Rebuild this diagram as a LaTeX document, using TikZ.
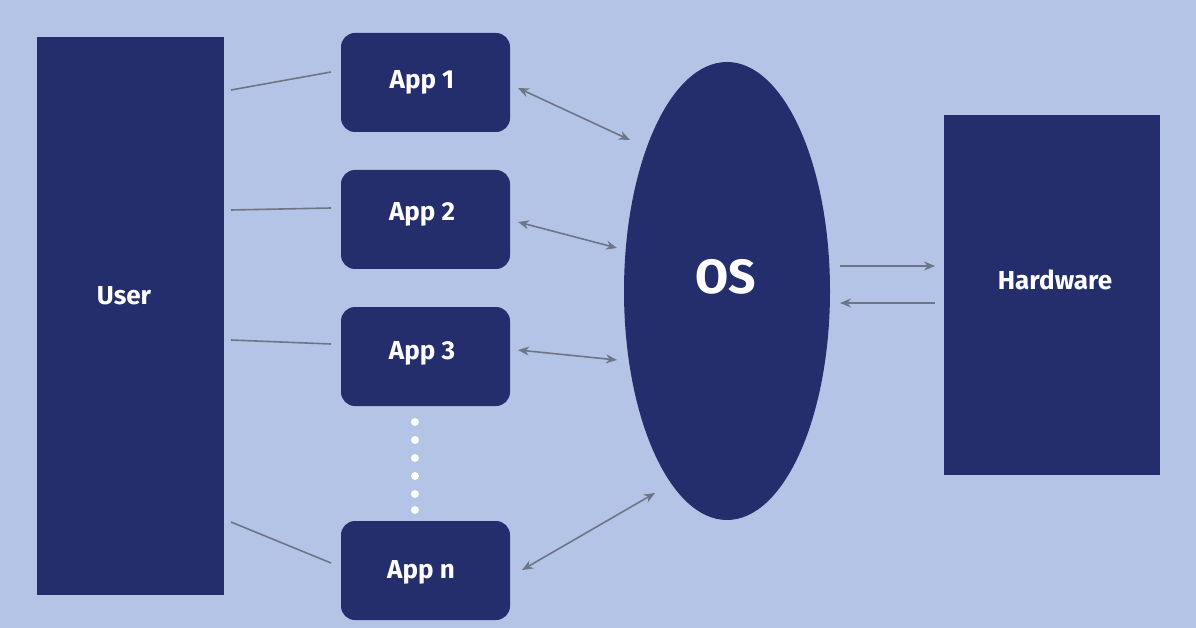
\documentclass[tikz,border=0pt]{standalone}
\usepackage{fontspec}
\setmainfont{Fira Sans}
\usetikzlibrary{arrows.meta,shapes.geometric}
\definecolor{bg}{HTML}{B4C4E6}
\definecolor{navy}{HTML}{252E6C}
\definecolor{ln}{HTML}{6E7686}
\begin{document}
\begin{tikzpicture}[x=1pt,y=-1pt,
  blk/.style={fill=navy,draw=none,text=white,font=\fontsize{26}{30}\selectfont\bfseries},
  txt/.style={text=white,font=\fontsize{26}{30}\selectfont\bfseries},
  app/.style={blk,rounded corners=14pt,minimum width=169pt,minimum height=99pt},
  con/.style={draw=ln,line width=1.6pt},
  arr/.style={con,{Stealth[length=11pt,width=9pt]}-{Stealth[length=11pt,width=9pt]}},
  one/.style={con,-{Stealth[length=11pt,width=9pt]}}]
\fill[bg] (0,0) rectangle (1196,628);
\useasboundingbox (0,0) rectangle (1196,628);
\node[blk,minimum width=187pt,minimum height=558pt] (user) at (130.5,316) {};
\node[txt] (userl) at (124,296) {User};
\node[app] (a1) at (425.5,82.5) {};
\node[txt] (a1l) at (422,82) {App 1};
\node[app] (a2) at (425.5,219.5) {};
\node[txt] (a2l) at (422,214) {App 2};
\node[app] (a3) at (425.5,356.5) {};
\node[txt] (a3l) at (422,353) {App 3};
\node[app] (an) at (425.5,570.5) {};
\node[txt] (anl) at (421,572) {App n};
\node[blk,ellipse,minimum width=206pt,minimum height=458pt,inner sep=0pt] (os) at (727,291) {};
\node[txt,font=\fontsize{48}{56}\selectfont\bfseries] (osl) at (726,277) {OS};
\node[blk,minimum width=216pt,minimum height=360pt] (hw) at (1052,295) {};
\node[txt] (hwl) at (1055,280) {Hardware};
\foreach \y [count=\i] in {422,440,458,476,494,510}{\fill[white] (415,\y) circle (4pt) coordinate (d\i);}
\coordinate (u1) at (231,90); \coordinate (u1e) at (331,72);
\draw[con] (u1) -- (u1e);
\coordinate (u2) at (231,210); \coordinate (u2e) at (331,208);
\draw[con] (u2) -- (u2e);
\coordinate (u3) at (231,340); \coordinate (u3e) at (331,344);
\draw[con] (u3) -- (u3e);
\coordinate (u4) at (231,522); \coordinate (u4e) at (331,563);
\draw[con] (u4) -- (u4e);
\coordinate (o1) at (630,140); \coordinate (p1) at (518,88);
\coordinate (o2) at (617,248); \coordinate (p2) at (518,222);
\coordinate (o3) at (617,360); \coordinate (p3) at (518,350);
\coordinate (o4) at (655,493); \coordinate (p4) at (522,570);
\draw[arr] (p1) -- (o1);
\draw[arr] (p2) -- (o2);
\draw[arr] (p3) -- (o3);
\draw[arr] (p4) -- (o4);
\coordinate (h1) at (840,266); \coordinate (h1e) at (935,266);
\coordinate (h2) at (935,303); \coordinate (h2e) at (840,303);
\draw[one] (h1) -- (h1e);
\draw[one] (h2) -- (h2e);
\end{tikzpicture}
\end{document}
